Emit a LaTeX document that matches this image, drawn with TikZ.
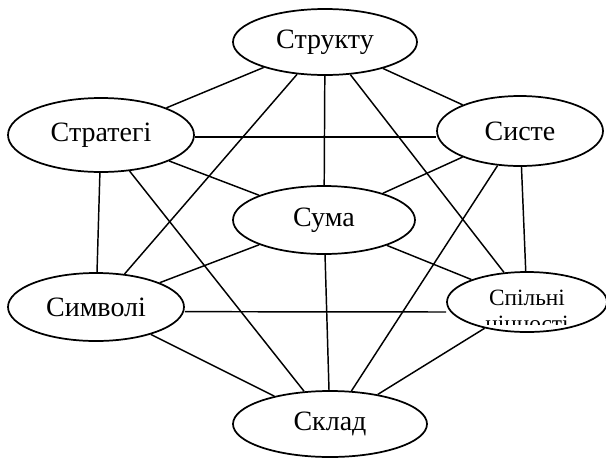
\documentclass[tikz,border=0pt]{standalone}
\usepackage{fontspec}
\setmainfont{Liberation Serif}
\usetikzlibrary{shapes.geometric}

\begin{document}
\begin{tikzpicture}[x=0.75pt,y=-0.75pt,
    oval/.style={draw, ellipse, line width=1.3pt, inner sep=0pt,
        font=\fontsize{21}{23}\selectfont},
    link/.style={line width=1.1pt},
    small/.style={font=\fontsize{17.5}{19}\selectfont, inner sep=0pt, anchor=base}]
\useasboundingbox (0,0) rectangle (606,457);

\node[oval, minimum width=138pt, minimum height=49.5pt] (str) at (325,42) {Структу};
\node[oval, minimum width=139.5pt, minimum height=55.5pt] (stg) at (101,135) {Стратегі};
\node[oval, minimum width=124.5pt, minimum height=52.5pt] (sys) at (520,131) {Систе};
\node[oval, minimum width=136.5pt, minimum height=51pt] (sum) at (324,220) {Сума};
\node[oval, minimum width=132pt, minimum height=51pt] (sym) at (96,307) {Символі};
\node[oval, minimum width=120pt, minimum height=45pt] (spl) at (527,302) {};
\node[oval, minimum width=145.5pt, minimum height=49.5pt] (skl) at (330,424) {Склад};

% the second line is cut off by the frame of the oval
\node[small] (spl-a) at (527,305) {Спільні};
\begin{scope}
    \clip (440,280) rectangle (606,324);
    \node[small] (spl-b) at (527,331) {цінності};
\end{scope}

\foreach \a/\b in {str/stg, str/sys, str/sym, str/sum, str/spl,
    stg/sum, stg/sym, stg/skl,
    sys/sum, sys/skl, sys/spl,
    sum/sym, sum/spl, sum/skl, sym/skl, spl/skl}
    \draw[link] (\a) -- (\b);
% the two long cross lines run level
\draw[link] ([yshift=-1.5pt]stg.east) -- ([yshift=-4.5pt]sys.west);
\draw[link] ([yshift=-3.5pt]sym.east) -- ([yshift=-7.5pt]spl.west);

\end{tikzpicture}
\end{document}
